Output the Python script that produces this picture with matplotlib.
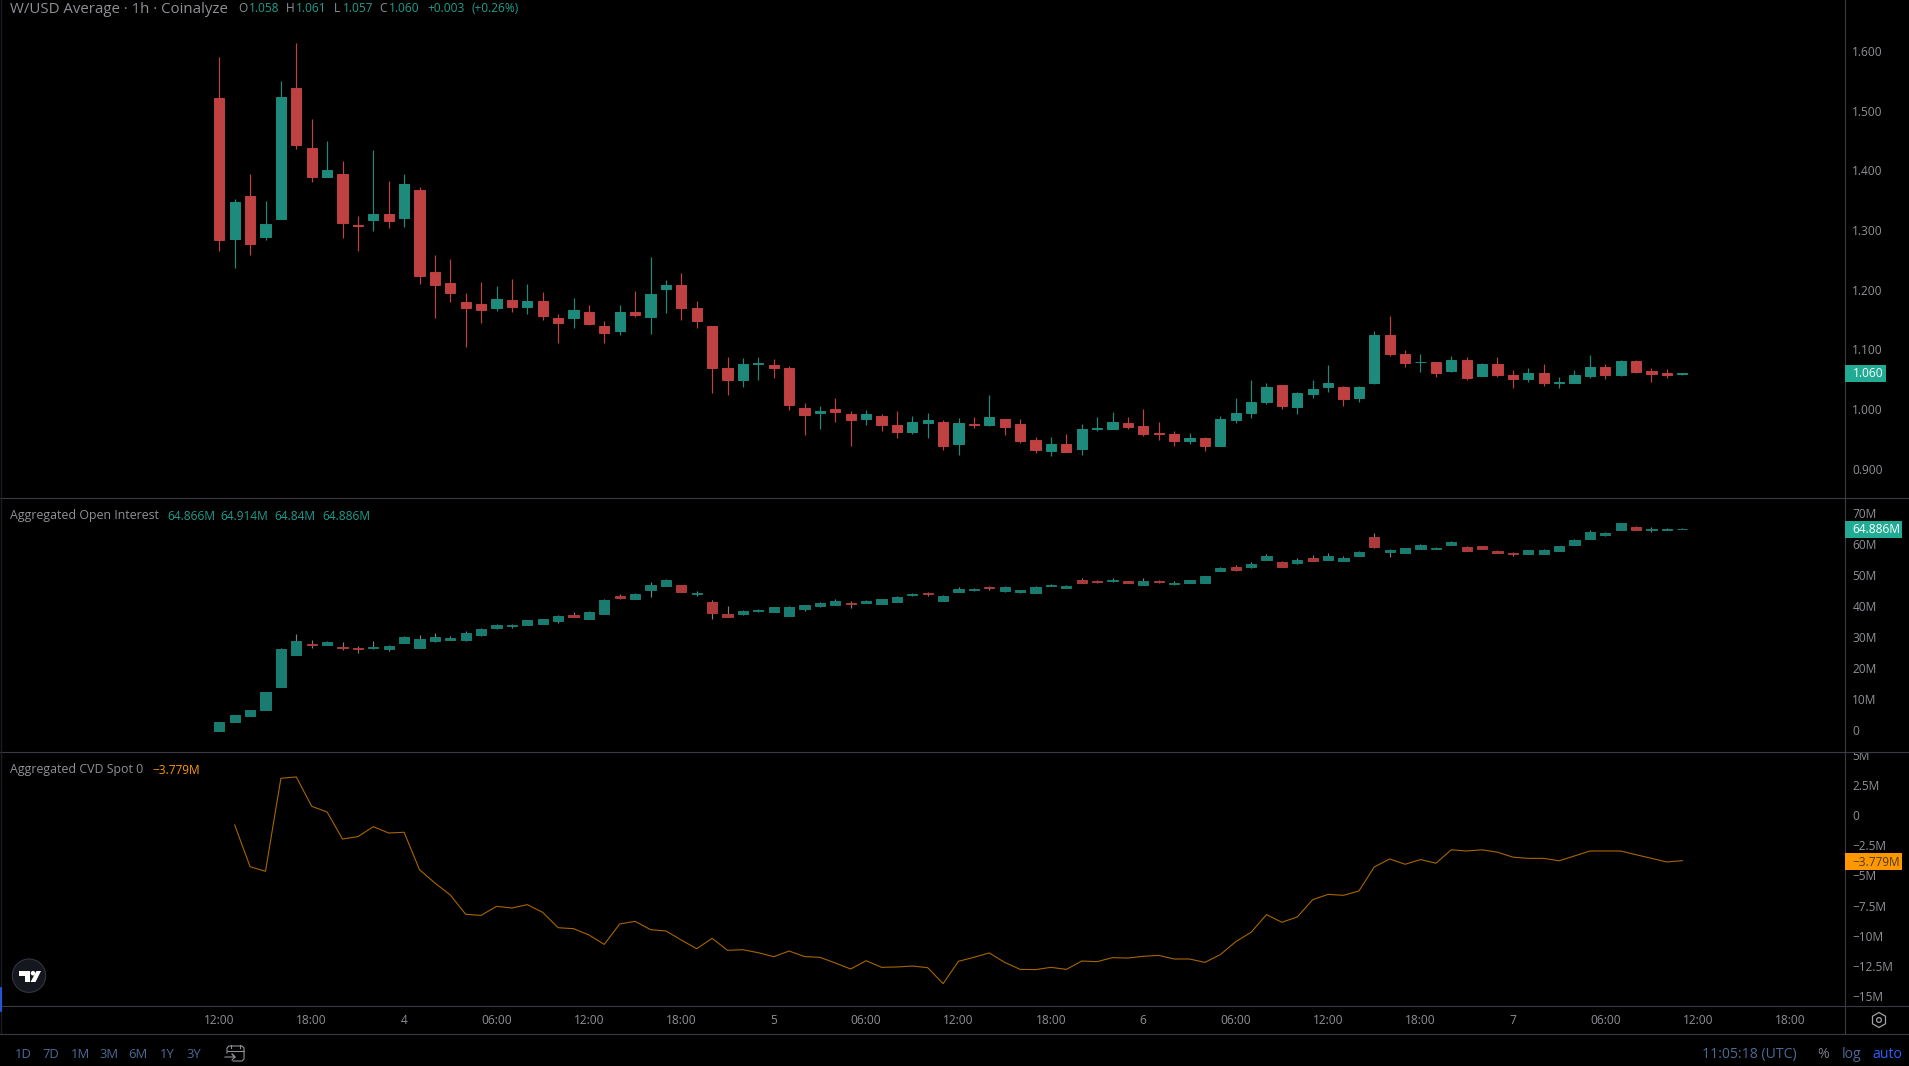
import numpy as np
import matplotlib
matplotlib.use("Agg")
import matplotlib.pyplot as plt
from matplotlib.patches import Rectangle, Circle, Polygon, RegularPolygon
from matplotlib.transforms import Bbox

plt.rcParams['font.family'] = ['Open Sans', 'DejaVu Sans']

# W/USD price, 1h candles
p_open = [1.521,1.285,1.357,1.288,1.318,1.538,1.437,1.389,1.394,1.308,1.317,1.327,1.320,1.367,1.230,1.211,
          1.179,1.176,1.169,1.183,1.171,1.181,1.152,1.152,1.163,1.139,1.131,1.163,1.154,1.201,1.208,1.169,
          1.139,1.069,1.049,1.075,1.074,1.069,1.002,0.993,1.000,0.992,0.983,0.988,0.973,0.962,0.9765,0.978,
          0.941,0.975,0.973,0.983,0.975,0.948,0.930,0.941,0.933,0.9665,0.9665,0.9765,0.9715,0.960,0.958,0.946,
          0.951,0.938,0.982,0.993,1.012,1.040,1.003,1.025,1.037,1.037,1.018,1.044,1.124,1.092,1.078,1.079,
          1.064,1.082,1.055,1.075,1.057,1.050,1.060,1.044,1.044,1.055,1.070,1.057,1.080,1.0636,1.060,1.058]
p_high = [1.590,1.352,1.394,1.348,1.549,1.613,1.486,1.449,1.415,1.323,1.434,1.382,1.394,1.372,1.258,1.251,
          1.194,1.213,1.206,1.218,1.209,1.196,1.159,1.186,1.174,1.147,1.174,1.198,1.255,1.216,1.228,1.181,
          1.139,1.087,1.085,1.087,1.084,1.072,1.010,1.005,1.018,0.997,0.998,0.992,0.997,0.988,0.993,0.982,
          0.985,0.987,1.024,0.983,0.983,0.953,0.953,0.958,0.975,0.987,0.995,0.987,1.000,0.978,0.963,0.960,
          0.953,0.988,1.018,1.049,1.044,1.040,1.0285,1.049,1.074,1.0385,1.0385,1.131,1.156,1.099,1.092,1.079,
          1.089,1.087,1.077,1.087,1.065,1.069,1.075,1.054,1.065,1.0905,1.075,1.082,1.082,1.069,1.067,1.061]
p_low = [1.265,1.236,1.258,1.283,1.318,1.436,1.380,1.388,1.286,1.265,1.298,1.303,1.305,1.209,1.152,1.179,
         1.104,1.144,1.164,1.163,1.159,1.149,1.111,1.136,1.141,1.111,1.124,1.154,1.126,1.161,1.149,1.136,
         1.027,1.024,1.037,1.049,1.052,0.998,0.956,0.967,0.978,0.938,0.973,0.963,0.951,0.958,0.951,0.931,
         0.923,0.968,0.9715,0.956,0.943,0.926,0.921,0.928,0.923,0.963,0.966,0.9665,0.955,0.948,0.938,0.941,
         0.930,0.938,0.9765,0.985,1.008,1.000,0.992,1.018,1.0285,1.005,1.012,1.042,1.089,1.070,1.062,1.054,
         1.062,1.049,1.055,1.054,1.035,1.045,1.0385,1.035,1.044,1.052,1.050,1.055,1.060,1.045,1.052,1.057]
p_close = [1.283,1.347,1.276,1.310,1.523,1.442,1.389,1.400,1.312,1.307,1.327,1.315,1.377,1.223,1.208,1.194,
           1.169,1.166,1.184,1.171,1.181,1.156,1.144,1.166,1.142,1.127,1.163,1.158,1.193,1.208,1.169,1.147,
           1.069,1.049,1.075,1.077,1.069,1.007,0.990,0.997,0.995,0.982,0.992,0.973,0.962,0.978,0.982,0.938,
           0.9765,0.973,0.987,0.970,0.946,0.931,0.941,0.928,0.9665,0.968,0.978,0.970,0.958,0.958,0.946,0.951,
           0.938,0.983,0.993,1.012,1.037,1.005,1.027,1.0335,1.044,1.017,1.037,1.124,1.092,1.077,1.079,1.060,
           1.082,1.052,1.075,1.057,1.050,1.060,1.044,1.045,1.057,1.070,1.057,1.080,1.062,1.059,1.057,1.060]

# aggregated open interest, millions
oi_open = [-0.43,2.47,4.41,6.34,13.76,24.09,27.63,27.31,26.67,26.34,26.34,26.02,27.96,26.34,28.60,28.92,
           28.92,30.54,32.80,33.44,33.76,34.09,35.05,36.99,35.70,37.31,43.12,42.15,45.05,46.34,46.67,43.76,
           41.18,37.31,37.31,38.28,37.96,36.67,38.92,39.89,40.22,40.86,40.86,40.54,41.18,43.44,44.09,41.51,
           44.41,45.05,46.02,44.73,44.41,44.09,46.34,45.70,48.28,47.96,47.96,47.96,46.67,47.96,46.99,47.31,
           47.31,51.18,52.47,52.47,54.73,54.09,53.76,55.38,54.73,54.41,56.02,62.15,57.31,56.99,58.28,58.28,
           59.57,58.92,59.25,57.63,56.99,56.67,56.67,57.63,59.57,61.51,62.80,64.41,65.38,64.41,64.41,64.866]
oi_high = [2.47,4.73,6.34,12.15,26.34,30.86,28.92,28.60,28.28,26.99,28.60,27.31,30.22,30.54,31.18,30.22,
           31.83,32.80,34.09,34.09,35.38,35.70,36.99,37.96,38.28,42.15,43.76,44.09,47.63,48.60,46.67,44.73,
           41.83,39.89,38.60,38.92,39.57,39.89,40.22,41.18,42.15,41.51,41.72,42.15,43.12,44.09,44.41,43.44,
           46.02,45.70,46.34,46.34,45.05,46.34,46.99,46.67,48.92,48.28,48.92,47.96,48.92,48.28,47.96,48.28,
           49.57,52.47,53.12,54.09,56.67,54.41,55.38,56.34,56.99,56.02,57.63,63.44,58.28,58.60,59.89,58.92,
           60.86,59.25,59.25,57.96,57.31,57.96,58.28,59.25,61.51,64.41,63.76,66.67,65.70,65.38,65.05,64.914]
oi_low = [-0.43,2.47,4.41,6.34,13.76,24.09,26.34,27.31,25.70,24.73,26.02,25.38,27.96,26.34,28.28,28.92,
          28.60,30.22,32.47,32.80,33.76,34.09,34.41,36.34,35.70,37.31,42.15,42.15,42.80,46.34,44.41,43.12,
          35.70,36.34,36.99,37.96,37.96,36.67,38.28,39.57,40.22,39.25,40.86,40.54,41.18,43.12,43.12,41.51,
          44.41,44.73,45.05,44.41,44.09,44.09,46.34,45.70,47.31,47.31,47.63,47.31,46.67,47.31,46.67,47.31,
          47.31,51.18,51.18,52.15,54.73,52.47,53.44,54.41,54.73,54.41,56.02,58.60,55.70,56.99,58.28,58.28,
          59.57,57.63,58.28,56.99,56.02,56.67,56.67,57.63,59.57,61.51,62.47,64.41,64.41,63.76,64.41,64.84]
oi_close = [2.47,4.73,6.34,12.15,26.02,28.60,27.31,28.28,26.45,26.02,26.67,26.99,29.89,29.25,29.89,29.57,
            31.18,32.47,33.76,33.76,35.38,35.70,36.67,36.34,37.96,41.83,42.47,43.76,46.67,48.28,44.41,44.09,
            37.63,36.34,38.28,38.60,39.57,39.57,40.22,40.86,41.51,40.65,41.51,42.15,42.80,43.76,43.76,43.12,
            45.38,45.38,45.70,46.02,45.05,46.02,46.67,46.34,47.31,47.63,48.28,47.31,47.96,47.63,47.31,48.28,
            49.57,52.15,51.51,53.44,56.02,52.47,54.73,54.41,56.02,55.38,57.31,58.92,57.96,58.60,59.57,58.60,
            60.54,57.63,58.28,56.99,56.67,57.96,57.96,59.25,61.18,63.76,63.44,66.67,64.41,64.73,64.73,64.886]

# aggregated CVD spot, millions (starts one bar after the candles)
cvd = [-0.83,-4.28,-4.66,3.04,3.15,0.72,0.25,-1.99,-1.79,-0.97,-1.49,-1.43,-4.53,-5.63,-6.62,-8.22,
       -8.31,-7.56,-7.70,-7.42,-8.06,-9.33,-9.41,-9.93,-10.71,-9.02,-8.80,-9.49,-9.60,-10.35,-11.07,-10.21,
       -11.20,-11.15,-11.40,-11.73,-11.26,-11.72,-11.78,-12.25,-12.75,-12.06,-12.61,-12.58,-12.50,-12.64,-13.96,-12.11,
       -11.78,-11.42,-12.20,-12.78,-12.80,-12.61,-12.78,-12.09,-12.14,-11.81,-11.84,-11.70,-11.62,-11.92,-11.92,-12.20,
       -11.56,-10.49,-9.71,-8.25,-8.88,-8.44,-7.01,-6.57,-6.65,-6.29,-4.30,-3.64,-4.08,-3.69,-3.99,-2.88,
       -2.98,-2.88,-3.08,-3.49,-3.59,-3.59,-3.79,-3.39,-2.98,-2.98,-2.98,-3.29,-3.59,-3.89,-3.779]

price_ticks = [0.9, 1.0, 1.1, 1.2, 1.3, 1.4, 1.5, 1.6]
oi_ticks = [0, 10, 20, 30, 40, 50, 60, 70]
oi_labels = ['0', '10M', '20M', '30M', '40M', '50M', '60M', '70M']
cvd_ticks = [5, 2.5, 0, -2.5, -5, -7.5, -10, -12.5, -15]
cvd_labels = ['5M', '2.5M', '0', '−2.5M', '−5M', '−7.5M', '−10M', '−12.5M', '−15M']
time_ticks = list(range(0, 103, 6))
time_labels = ['12:00', '18:00', '4', '06:00', '12:00', '18:00', '5', '06:00', '12:00', '18:00', '6',
               '06:00', '12:00', '18:00', '7', '06:00', '12:00', '18:00']

W, H = 1909, 1066
BG = '#000000'
LINE = '#3a3c44'
TXT = '#8f9096'
UP = '#1e8a7c'
DOWN = '#bf4141'
TEAL = '#1f9e8f'
MUTED = '#4d6a96'

fig = plt.figure(figsize=(W / 100, H / 100), dpi=100, facecolor=BG)


def panel(top, bottom):
    # pixel box -> axes, x runs in hours from the first candle
    ax = fig.add_axes([0, 1 - bottom / H, 1844.5 / W, (bottom - top) / H], facecolor=BG)
    ax.set_xlim(-219.3 / 15.4, (1844.5 - 219.3) / 15.4)
    for s in ax.spines.values():
        s.set_visible(False)
    ax.yaxis.tick_right()
    ax.tick_params(axis='y', length=0, pad=5.6, labelsize=8.6, labelcolor=TXT)
    ax.set_xticks([])
    return ax


def candles(ax, o, h, l, c, up, down, wick_up=None, wick_down=None):
    o, h, l, c = map(np.array, (o, h, l, c))
    x = np.arange(len(o))
    rising = c >= o
    ax.vlines(x[rising], l[rising], h[rising], color=wick_up or up, lw=0.85)
    ax.vlines(x[~rising], l[~rising], h[~rising], color=wick_down or down, lw=0.85)
    cols = [up if r else down for r in rising]
    ax.bar(x, np.abs(c - o), bottom=np.minimum(o, c), width=0.66, color=cols, edgecolor=cols, linewidth=0.7, zorder=3)


ax1 = panel(0, 497.5)
ax1.set_ylim(1 + (409 - 497.5) / 597, 1 + 409 / 597)
candles(ax1, p_open, p_high, p_low, p_close, UP, DOWN)
ax1.set_yticks(price_ticks, ['%.3f' % v for v in price_ticks])

ax2 = panel(498, 751)
ax2.set_ylim((729.7 - 751) / 3.1, (729.7 - 498) / 3.1)
candles(ax2, oi_open, oi_high, oi_low, oi_close, '#1a7c71', '#ad3a3a', '#808080', '#808080')
ax2.set_yticks(oi_ticks, oi_labels)

ax3 = panel(751.5, 1005)
ax3.set_ylim((815 - 1005) / 12.08, (815 - 751.5) / 12.08)
ax3.plot(np.arange(1, len(cvd) + 1), cvd, color='#a86500', lw=0.8)
ax3.set_yticks(cvd_ticks, cvd_labels)
ax3.set_xticks(time_ticks, time_labels)
ax3.tick_params(axis='x', length=0, pad=6.5, labelsize=8.6, labelcolor=TXT)
fig.canvas.draw()
# the top 5M label gets cut by the pane border
for lab in ax3.get_yticklabels():
    lab.set_clip_on(True)
    lab.set_clip_box(Bbox([[1845, 0], [W, H - 752]]))

# everything else is chart chrome, in pixels
ov = fig.add_axes([0, 0, 1, 1], facecolor='none')
ov.set_xlim(0, W)
ov.set_ylim(H, 0)
ov.axis('off')

for y in (497.5, 751.5, 1005.5):
    ov.plot([0, W], [y, y], color=LINE, lw=0.8)
ov.plot([0, W], [1033.5, 1033.5], color=LINE, lw=0.8)
ov.plot([1844.5, 1844.5], [0, 1033.5], color=LINE, lw=0.8)
ov.plot([0.5, 0.5], [0, 1033], color='#1c1e26', lw=1)
ov.plot([0.7, 0.7], [988, 1011], color='#2962ff', lw=1.2)


def label(x, y, s, color=TXT, size=8.6, ha='left', **kw):
    ov.text(x, y, s, color=color, fontsize=size, ha=ha, va='center', **kw)


# legends
label(10, 9.5, 'W/USD Average · 1h · Coinalyze', size=10.85)
for x, s, c in [(238.6, 'O', TXT), (249, '1.058', TEAL), (286, 'H', TXT), (296, '1.061', TEAL),
                (334, 'L', TXT), (343, '1.057', TEAL), (379, 'C', TXT), (389, '1.060', TEAL),
                (427.5, '+0.003', TEAL), (471, '(+0.26%)', TEAL)]:
    label(x, 9, s, c)
label(10, 516, 'Aggregated Open Interest', size=8.95)
for x, s in [(167, '64.866M'), (220, '64.914M'), (274, '64.84M'), (322.6, '64.886M')]:
    label(x, 516, s, TEAL)
label(10, 770, 'Aggregated CVD Spot 0', size=8.95)
label(152, 770, '−3.779M', '#ff9800')


# last value badges
def badge(y0, y1, x1, s, bg, fg):
    ov.add_patch(Rectangle((1844.5, y0), x1 - 1844.5, y1 - y0, facecolor=bg, edgecolor='none', zorder=4))
    label(1852.5, (y0 + y1) / 2 + 0.5, s, fg, zorder=5)


badge(365, 381.7, 1886.4, '1.060', '#22ab94', '#ffffff')
badge(521, 537.7, 1901.7, '64.886M', '#22ab94', '#ffffff')
badge(853, 870, 1901.7, '−3.779M', '#ff9800', '#4a3a20')

# bottom toolbar
for x, s in [(23, '1D'), (51, '7D'), (80, '1M'), (109, '3M'), (138, '6M'), (167, '1Y'), (194, '3Y')]:
    label(x, 1054.5, s, MUTED, size=9.4, ha='center')
label(1749, 1054.5, '11:05:18 (UTC)', MUTED, size=10.1, ha='center')
label(1823, 1054.5, '%', '#787b86', size=10.1, ha='center')
label(1852, 1054.5, 'log', MUTED, size=10.1, ha='center')
label(1887, 1054.5, 'auto', '#2962ff', size=10.1, ha='center')

# calendar icon, box open at the lower left for the arrow
ov.plot([227, 227, 229, 242, 244, 244, 242, 233], [1053, 1048, 1046, 1046, 1048, 1059, 1061, 1061], color=TXT, lw=0.8)
ov.plot([227, 244], [1051, 1051], color=TXT, lw=0.8)
ov.plot([231, 231], [1044.5, 1048], color=TXT, lw=0.8)
ov.plot([240, 240], [1044.5, 1048], color=TXT, lw=0.8)
ov.plot([225, 235, 232, 235, 232], [1057, 1057, 1054, 1057, 1060], color=TXT, lw=0.8)

# settings icon
ov.add_patch(RegularPolygon((1879, 1020), 6, radius=7.5, facecolor='none', edgecolor='#a0a0a5', lw=0.9))
ov.add_patch(Circle((1879, 1020), 2.4, facecolor='none', edgecolor='#a0a0a5', lw=0.9))

# tradingview logo
ov.add_patch(Circle((29, 975.7), 16.7, facecolor='#15171f', edgecolor='#33363f', lw=0.8))
ov.add_patch(Polygon([(19, 971), (30, 971), (30, 982), (25.3, 982), (25.3, 975.5), (19, 975.5)], facecolor='white'))
ov.add_patch(Circle((33, 973.2), 2.3, facecolor='white'))
ov.add_patch(Polygon([(36.5, 971), (41, 971), (35.5, 982), (30.5, 982)], facecolor='white'))

fig.savefig('out.png', dpi=100, facecolor=BG)
